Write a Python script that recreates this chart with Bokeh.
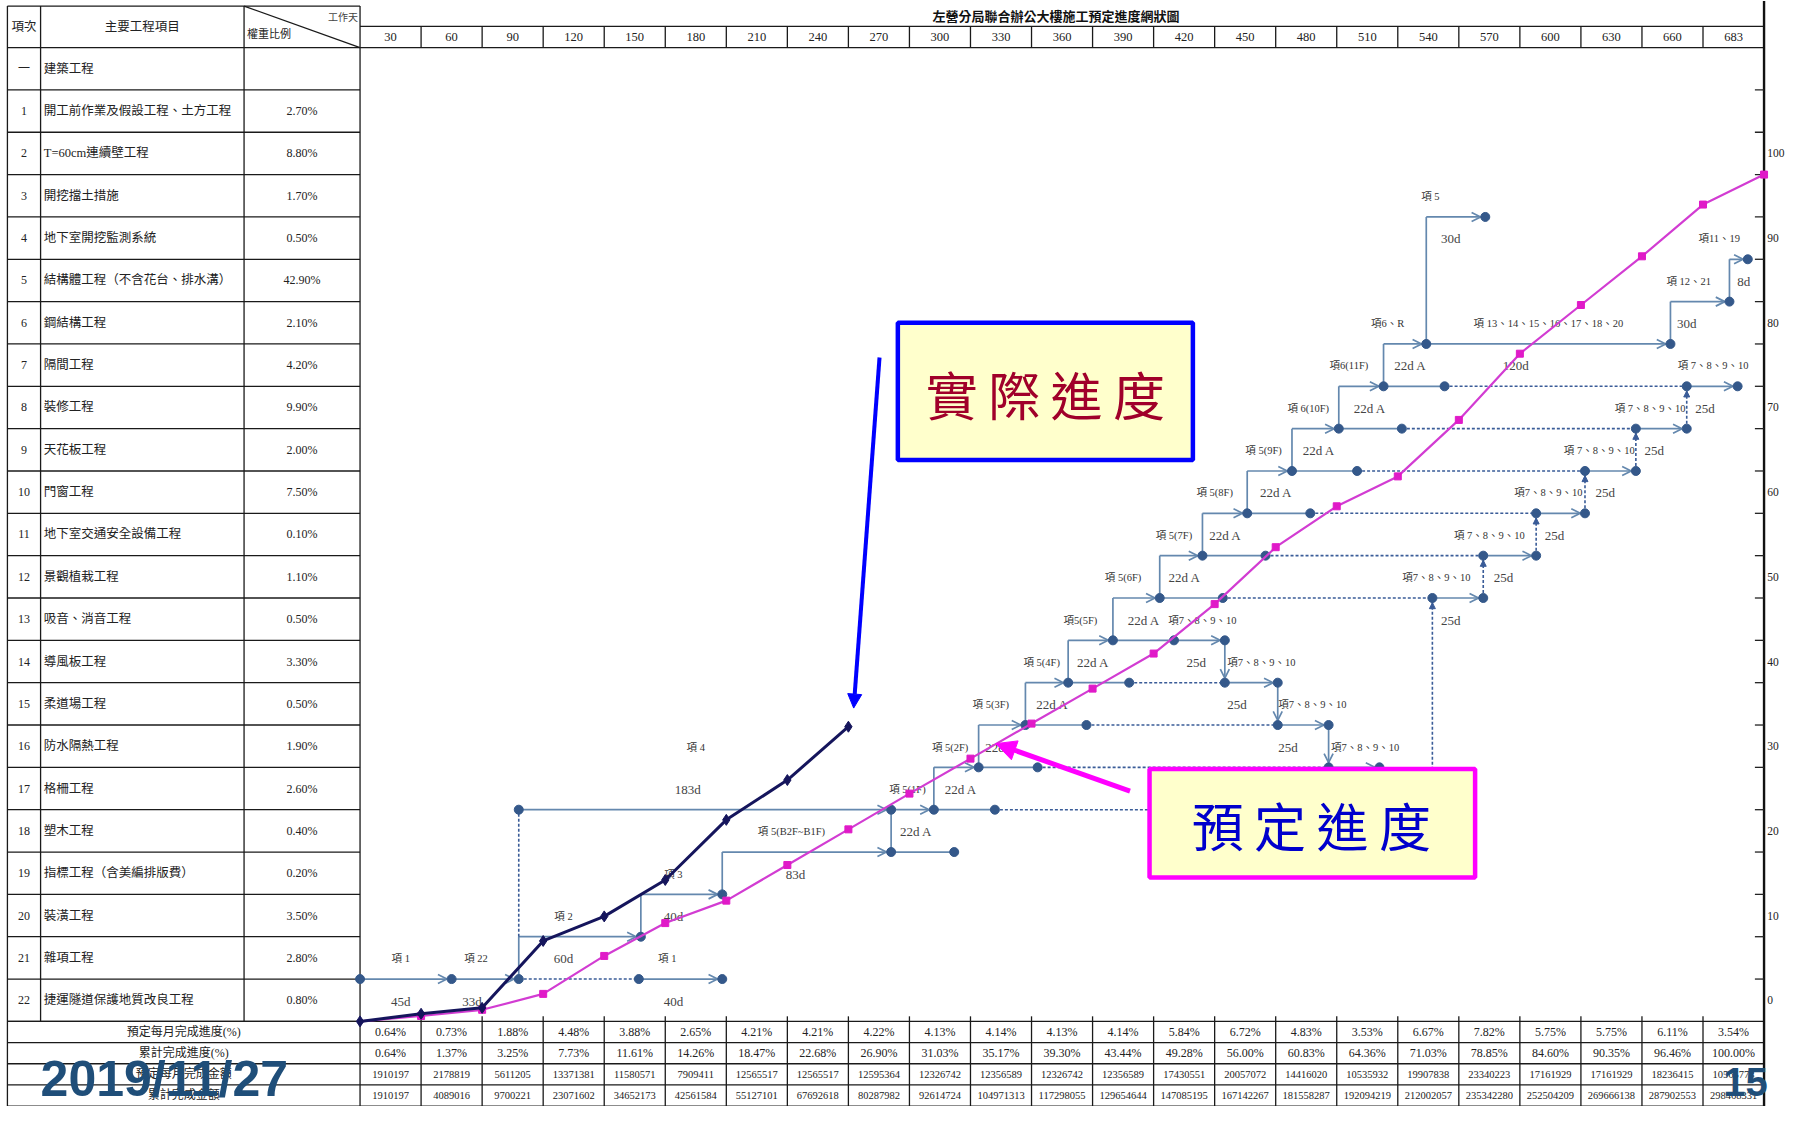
import numpy as np
from bokeh.plotting import figure
from bokeh.models import Range1d, ColumnDataSource, Arrow, OpenHead, NormalHead
from bokeh.core.properties import value
from bokeh.embed import file_html
from bokeh.resources import INLINE

# ============================ DATA ============================
day_labels = ["30", "60", "90", "120", "150", "180", "210", "240", "270", "300", "330", "360",
              "390", "420", "450", "480", "510", "540", "570", "600", "630", "660", "683"]

planned_monthly = [0.64, 0.73, 1.88, 4.48, 3.88, 2.65, 4.21, 4.21, 4.22, 4.13, 4.14, 4.13,
                   4.14, 5.84, 6.72, 4.83, 3.53, 6.67, 7.82, 5.75, 5.75, 6.11, 3.54]
planned_cum = [0.64, 1.37, 3.25, 7.73, 11.61, 14.26, 18.47, 22.68, 26.90, 31.03, 35.17, 39.30,
               43.44, 49.28, 56.00, 60.83, 64.36, 71.03, 78.85, 84.60, 90.35, 96.46, 100.00]
monthly_amount = [1910197, 2178819, 5611205, 13371381, 11580571, 7909411, 12565517, 12565517,
                  12595364, 12326742, 12356589, 12326742, 12356589, 17430551, 20057072, 14416020,
                  10535932, 19907838, 23340223, 17161929, 17161929, 18236415, 10565778]
cum_amount = [1910197, 4089016, 9700221, 23071602, 34652173, 42561584, 55127101, 67692618,
              80287982, 92614724, 104971313, 117298055, 129654644, 147085195, 167142267, 181558287,
              192094219, 212002057, 235342280, 252504209, 269666138, 287902553, 298468331]

actual_month = [0, 1, 2, 3, 4, 5, 6, 7, 8]
actual_pct = [0.0, 0.9, 1.6, 9.5, 12.4, 16.7, 23.8, 28.5, 34.8]

item_no = ["一", "1", "2", "3", "4", "5", "6", "7", "8", "9", "10", "11", "12", "13", "14",
           "15", "16", "17", "18", "19", "20", "21", "22"]
item_names = ["建築工程", "開工前作業及假設工程、土方工程", "T=60cm連續壁工程", "開挖擋土措施",
              "地下室開挖監測系統", "結構體工程（不含花台、排水溝）", "鋼結構工程", "隔間工程",
              "裝修工程", "天花板工程", "門窗工程", "地下室交通安全設備工程", "景觀植栽工程",
              "吸音、消音工程", "導風板工程", "柔道場工程", "防水隔熱工程", "格柵工程", "塑木工程",
              "指標工程（含美編排版費）", "裝潢工程", "雜項工程", "捷運隧道保護地質改良工程"]
item_weight = ["", "2.70%", "8.80%", "1.70%", "0.50%", "42.90%", "2.10%", "4.20%", "9.90%",
               "2.00%", "7.50%", "0.10%", "1.10%", "0.50%", "3.30%", "0.50%", "1.90%", "2.60%",
               "0.40%", "0.20%", "3.50%", "2.80%", "0.80%"]

bottom_labels = ["預定每月完成進度(%)", "累計完成進度(%)", "預定每月完成金額", "累計完成金額"]
pct_ticks = [0, 10, 20, 30, 40, 50, 60, 70, 80, 90, 100]

# network diagram (day, percent level)
net_arrows = [(0, 45, 5), (45, 78, 5), (137, 178, 5), (78, 138, 10), (138, 178, 15),
              (178, 261, 20), (78, 261, 25), (261, 282, 25), (282, 304, 30), (304, 327, 35),
              (327, 348, 40), (348, 370, 45), (370, 393, 50), (393, 414, 55), (414, 436, 60),
              (436, 458, 65), (458, 481, 70), (481, 503, 75), (503, 524, 80), (524, 644, 80),
              (524, 553, 95), (644, 673, 85), (673, 682, 90),
              (476, 501, 30), (451, 476, 35), (425, 451, 40), (400, 425, 45), (527, 552, 50),
              (552, 578, 55), (578, 602, 60), (602, 627, 65), (627, 652, 70), (652, 677, 75)]
net_lines = [(261, 292, 20), (282, 312, 25), (304, 333, 30), (327, 357, 35), (348, 378, 40),
             (370, 400, 45), (393, 424, 50), (414, 445, 55), (436, 467, 60), (458, 490, 65),
             (481, 512, 70), (503, 533, 75)]
net_dashes = [(78, 137, 5), (312, 527, 25), (333, 476, 30), (357, 451, 35), (378, 425, 40),
              (424, 527, 50), (445, 552, 55), (467, 578, 60), (490, 602, 65), (512, 627, 70),
              (533, 652, 75)]
net_vlines = [(78, 5, 10), (138, 10, 15), (178, 15, 20), (261, 20, 25), (282, 25, 30),
              (304, 30, 35), (327, 35, 40), (348, 40, 45), (370, 45, 50), (393, 50, 55),
              (414, 55, 60), (436, 60, 65), (458, 65, 70), (481, 70, 75), (503, 75, 80),
              (524, 80, 95), (644, 80, 85), (673, 85, 90)]
net_vdash = [(78, 10, 25)]
net_vdash_up = [(527, 25, 50), (552, 50, 55), (578, 55, 60), (602, 60, 65), (627, 65, 70),
                (652, 70, 75)]
net_vdown = [(425, 45, 40), (451, 40, 35), (476, 35, 30)]
net_start_nodes = [(0, 5), (78, 25)]

item_labels = [("項 1", 20, 7.4), ("項 22", 57, 7.4), ("項 2", 100, 12.4), ("項 1", 151, 7.4),
               ("項 3", 154, 17.4), ("項 4", 165, 32.4), ("項 5(B2F~B1F)", 212, 22.4),
               ("項 5(1F)", 269, 27.4), ("項 5(2F)", 290, 32.4), ("項 5(3F)", 310, 37.4),
               ("項 5(4F)", 335, 42.4), ("項5(5F)", 354, 47.4), ("項 5(6F)", 375, 52.4),
               ("項 5(7F)", 400, 57.4), ("項 5(8F)", 420, 62.4), ("項 5(9F)", 444, 67.4),
               ("項 6(10F)", 466, 72.4), ("項6(11F)", 486, 77.4), ("項6、R", 505, 82.4),
               ("項 5", 526, 97.4), ("項 13、14、15、16、17、18、20", 584, 82.4),
               ("項 12、21", 653, 87.4), ("項11、19", 668, 92.4),
               ("項 7、8、9、10", 665, 77.4), ("項 7、8、9、10", 634, 72.4),
               ("項 7、8、9、10", 609, 67.4), ("項7、8、9、10", 584, 62.4),
               ("項 7、8、9、10", 555, 57.4), ("項7、8、9、10", 529, 52.4),
               ("項7、8、9、10", 414, 47.4), ("項7、8、9、10", 443, 42.4),
               ("項7、8、9、10", 468, 37.4), ("項7、8、9、10", 494, 32.4)]
dur_labels = [("45d", 20, 2.4), ("33d", 55, 2.4), ("60d", 100, 7.4), ("40d", 154, 2.4),
              ("40d", 154, 12.4), ("183d", 161, 27.4), ("83d", 214, 17.4),
              ("22d  A", 274, 22.4), ("22d  A", 296, 27.4), ("22d  A", 316, 32.4),
              ("22d  A", 341, 37.4), ("22d  A", 361, 42.4), ("22d  A", 386, 47.4),
              ("22d  A", 406, 52.4), ("22d  A", 426, 57.4), ("22d  A", 451, 62.4),
              ("22d  A", 472, 67.4), ("22d  A", 497, 72.4), ("22d  A", 517, 77.4),
              ("30d", 536, 92.4), ("120d", 568, 77.4), ("30d", 652, 82.4), ("8d", 680, 87.4),
              ("25d", 661, 72.4), ("25d", 636, 67.4), ("25d", 612, 62.4), ("25d", 587, 57.4),
              ("25d", 562, 52.4), ("25d", 536, 47.4), ("25d", 411, 42.4), ("25d", 431, 37.4),
              ("25d", 456, 32.4), ("25d", 507, 17.3)]

# ============================ LAYOUT ============================
COL_W = 30.0
N = len(day_labels)
CR = COL_W * N
TL, C1, C2, C3 = -173.3, -157.0, -57.0, 0.0
Y_TOP = 119.9
HDR = 115.0
TIME_TOP = 117.5
ROW_H = 5.0
BROW_H = 2.5

SERIF = value("Liberation Serif, Noto Sans CJK TC")
CJK = value("Noto Sans CJK TC")
SANS = value("Liberation Sans")
LINE_C = "#6488AE"
NODE_C = "#34588A"
DASH_C = "#3A5C98"
TXT_C = "#333333"

p = figure(width=1790, height=1106, x_range=Range1d(-176.7, 703.0),
           y_range=Range1d(-10.05, 120.56), x_axis_type=None, y_axis_type=None,
           tools="", toolbar_location=None, output_backend="svg", min_border=0,
           outline_line_color=None, background_fill_color="white", border_fill_color="white")

# ---------------- table grid ----------------
x0s, y0s, x1s, y1s = [], [], [], []
def seg(a, b, c, d):
    x0s.append(a); y0s.append(b); x1s.append(c); y1s.append(d)

seg(TL, Y_TOP, C3, Y_TOP)
for k in range(len(item_no) + 1):
    yy = HDR - k * ROW_H
    seg(TL, yy, C3, yy)
for xx in (C1, C2):
    seg(xx, 0, xx, Y_TOP)
seg(TL, -4 * BROW_H, TL, Y_TOP)
seg(C3, -4 * BROW_H, C3, Y_TOP)
seg(C2, Y_TOP, C3, HDR)  # diagonal header
for k in range(5):
    yy = -k * BROW_H
    seg(TL, yy, CR, yy)
seg(C3, TIME_TOP, CR, TIME_TOP)
seg(C3, HDR, CR, HDR)
for i in range(1, N):
    seg(i * COL_W, -4 * BROW_H, i * COL_W, 0)
    seg(i * COL_W, HDR, i * COL_W, TIME_TOP)
    seg(i * COL_W, 0, i * COL_W, 0.6)
p.segment(x0=x0s, y0=y0s, x1=x1s, y1=y1s, line_color="#1a1a1a", line_width=1.3)
p.segment(x0=[CR], y0=[-4 * BROW_H], x1=[CR], y1=[120.5], line_color="#111111", line_width=2.4)

# right side ticks and labels
tick_lv = np.arange(1, 23) * ROW_H
p.segment(x0=CR - 4.5, y0=tick_lv, x1=CR, y1=tick_lv, line_color="#222222", line_width=1.3)
p.text(x=[CR + 1.6] * len(pct_ticks), y=[v + 2.5 for v in pct_ticks], text=[str(v) for v in pct_ticks],
       text_font=SERIF, text_font_size="11.5px", text_align="left", text_baseline="middle",
       text_color="#222222")

# ---------------- left table text ----------------
row_c = HDR - ROW_H / 2 - ROW_H * np.arange(len(item_no))
p.text(x=[(TL + C1) / 2] * len(item_no), y=row_c, text=item_no, text_font=SERIF,
       text_font_size="12px", text_align="center", text_baseline="middle", text_color="#222222")
p.text(x=[C1 + 1.6] * len(item_no), y=row_c, text=item_names, text_font=SERIF,
       text_font_size="12.5px", text_align="left", text_baseline="middle", text_color="#222222")
p.text(x=[(C2 + C3) / 2] * len(item_no), y=row_c, text=item_weight, text_font=SERIF,
       text_font_size="12px", text_align="center", text_baseline="middle", text_color="#222222")
p.text(x=[(TL + C1) / 2, (C1 + C2) / 2], y=[117.4, 117.4], text=["項次", "主要工程項目"],
       text_font=SERIF, text_font_size="12.5px", text_align="center", text_baseline="middle",
       text_color="#222222")
p.text(x=[C2 + 1.5], y=[116.6], text=["權重比例"], text_font=SERIF, text_font_size="11px",
       text_align="left", text_baseline="middle", text_color="#222222")
p.text(x=[C3 - 1], y=[118.5], text=["工作天"], text_font=SERIF, text_font_size="10px",
       text_align="right", text_baseline="middle", text_color="#444444")

# ---------------- header timeline ----------------
col_c = COL_W * np.arange(N) + COL_W / 2
p.text(x=col_c, y=[(HDR + TIME_TOP) / 2] * N, text=day_labels, text_font=SERIF,
       text_font_size="12.5px", text_align="center", text_baseline="middle", text_color="#222222")
p.text(x=[342], y=[118.75], text=["左營分局聯合辦公大樓施工預定進度網狀圖"], text_font=CJK,
       text_font_style="bold", text_font_size="13px", text_align="center", text_baseline="middle",
       text_color="#111111")

# ---------------- bottom table ----------------
brow_c = [-BROW_H * (k + 0.5) for k in range(4)]
p.text(x=[(TL + C3) / 2] * 4, y=brow_c, text=bottom_labels, text_font=SERIF,
       text_font_size="12px", text_align="center", text_baseline="middle", text_color="#222222")
rows_txt = [[f"{v:.2f}%" for v in planned_monthly], [f"{v:.2f}%" for v in planned_cum],
            [str(v) for v in monthly_amount], [str(v) for v in cum_amount]]
for k, txt in enumerate(rows_txt):
    p.text(x=col_c, y=[brow_c[k]] * N, text=txt, text_font=SERIF,
           text_font_size="12px" if k < 2 else "10.5px", text_align="center",
           text_baseline="middle", text_color="#222222")

# ---------------- network diagram ----------------
def hs(lst):
    return dict(x0=[a for a, b, c in lst], x1=[b for a, b, c in lst], y=[c for a, b, c in lst])

d = hs(net_lines)
p.segment(x0=d["x0"], y0=d["y"], x1=d["x1"], y1=d["y"], line_color=LINE_C, line_width=1.7)
p.segment(x0=[a for a, b, c in net_vlines], y0=[b for a, b, c in net_vlines],
          x1=[a for a, b, c in net_vlines], y1=[c for a, b, c in net_vlines],
          line_color=LINE_C, line_width=1.7)
d = hs(net_dashes)
p.segment(x0=d["x0"], y0=d["y"], x1=d["x1"], y1=d["y"], line_color=DASH_C, line_width=1.6,
          line_dash="3 2")
vd = net_vdash + net_vdash_up
p.segment(x0=[a for a, b, c in vd], y0=[b for a, b, c in vd], x1=[a for a, b, c in vd],
          y1=[c for a, b, c in vd], line_color=DASH_C, line_width=1.6, line_dash="3 2")

tip_dx, tip_dy = 2.3, 0.55
d = hs(net_arrows)
src_a = ColumnDataSource(dict(x0=d["x0"], x1=[v - tip_dx for v in d["x1"]], y=d["y"]))
p.add_layout(Arrow(x_start="x0", y_start="y", x_end="x1", y_end="y", source=src_a,
                   line_color=LINE_C, line_width=1.7, level="underlay",
                   end=OpenHead(size=9, line_color=LINE_C, line_width=1.7)))
src_d = ColumnDataSource(dict(x=[a for a, b, c in net_vdown], y0=[b for a, b, c in net_vdown],
                              y1=[c + tip_dy for a, b, c in net_vdown]))
p.add_layout(Arrow(x_start="x", y_start="y0", x_end="x", y_end="y1", source=src_d,
                   line_color=LINE_C, line_width=1.7, level="underlay",
                   end=OpenHead(size=9, line_color=LINE_C, line_width=1.7)))
src_u = ColumnDataSource(dict(x=[a for a, b, c in net_vdash_up],
                              y0=[c - 1.2 for a, b, c in net_vdash_up],
                              y1=[c - tip_dy for a, b, c in net_vdash_up]))
p.add_layout(Arrow(x_start="x", y_start="y0", x_end="x", y_end="y1", source=src_u,
                   line_color=DASH_C, line_width=1.2, level="underlay",
                   end=NormalHead(size=6, fill_color=DASH_C, line_color=DASH_C)))

nodes = set(net_start_nodes)
for a, b, c in net_arrows:
    nodes.add((b, c))
for a, b, c in net_lines + net_dashes:
    nodes.add((a, c)); nodes.add((b, c))
nodes = sorted(nodes)
p.scatter(x=[n[0] for n in nodes], y=[n[1] for n in nodes], size=9, marker="circle",
          fill_color=NODE_C, line_color=NODE_C)

p.text(x=[t[1] for t in item_labels], y=[t[2] for t in item_labels], text=[t[0] for t in item_labels],
       text_font=SERIF, text_font_size="10.5px", text_align="center", text_baseline="middle",
       text_color=TXT_C)
p.text(x=[t[1] for t in dur_labels], y=[t[2] for t in dur_labels], text=[t[0] for t in dur_labels],
       text_font=SERIF, text_font_size="13px", text_align="center", text_baseline="middle",
       text_color="#444444")

# ---------------- S-curves ----------------
col_end = COL_W * (np.arange(N) + 1)
px = np.concatenate([[0.0], col_end])
py = np.concatenate([[0.0], planned_cum])
p.line(px, py, line_color="#D23CD2", line_width=2.2)
p.scatter(col_end, planned_cum, marker="square", size=7, fill_color="#E01AC8", line_color="#E01AC8")

ax = COL_W * np.array(actual_month)
p.line(ax, actual_pct, line_color="#15155C", line_width=3)
p.scatter(ax, actual_pct, marker="diamond", size=11, fill_color="#15155C", line_color="#15155C")

# ---------------- callout boxes ----------------
p.quad(left=[264.3], right=[409.3], top=[82.5], bottom=[66.3], fill_color="#FFFFCC",
       line_color="#0000FF", line_width=4.5, level="overlay")
p.text(x=[336.8], y=[74.2], text=["實\u2009際\u2009進\u2009度"], text_font=CJK, text_font_size="52px",
       text_align="center", text_baseline="middle", text_color="#A0002A", level="overlay")
p.quad(left=[388.0], right=[548.0], top=[29.8], bottom=[17.0], fill_color="#FFFFCC",
       line_color="#FF00FF", line_width=4.5, level="overlay")
p.text(x=[467.5], y=[23.2], text=["預\u2009定\u2009進\u2009度"], text_font=CJK, text_font_size="52px",
       text_align="center", text_baseline="middle", text_color="#0000CC", level="overlay")
p.add_layout(Arrow(x_start=255.3, y_start=78.4, x_end=242.6, y_end=37.0, line_color="#0000FF",
                   line_width=4, level="overlay",
                   end=NormalHead(size=14, fill_color="#0000FF", line_color="#0000FF")))
p.add_layout(Arrow(x_start=378.4, y_start=27.2, x_end=312.5, y_end=32.8, line_color="#FF00FF",
                   line_width=5, level="overlay",
                   end=NormalHead(size=20, fill_color="#FF00FF", line_color="#FF00FF")))

# ---------------- date / page number ----------------
p.text(x=[-157.0], y=[-6.8], text=["2019/11/27"], text_font=SANS, text_font_style="bold",
       text_font_size="50px", text_align="left", text_baseline="middle", text_color="#1F4E79",
       level="overlay")
p.text(x=[670.0], y=[-7.2], text=["15"], text_font=SANS, text_font_style="bold",
       text_font_size="40px", text_align="left", text_baseline="middle", text_color="#1F4E79",
       level="overlay")

open("out.html", "w").write(file_html(p, INLINE))
